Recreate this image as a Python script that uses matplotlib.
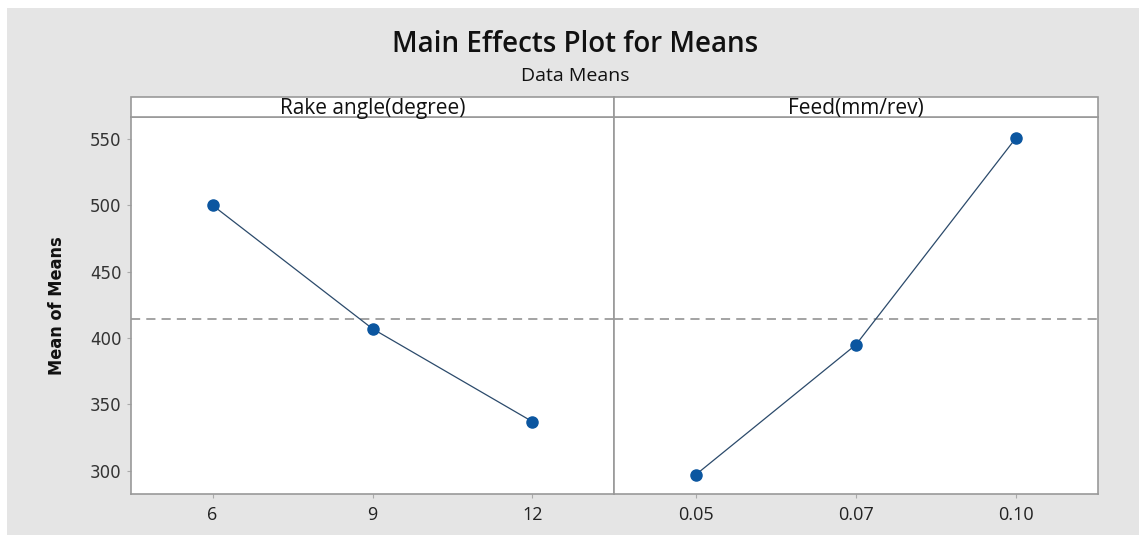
import matplotlib
matplotlib.use("Agg")
import matplotlib.pyplot as plt
from matplotlib.patches import Rectangle
import numpy as np

factors = ["Rake angle(degree)", "Feed(mm/rev)"]
rake_levels = ["6", "9", "12"]
rake_means = [500, 407, 337]
feed_levels = ["0.05", "0.07", "0.10"]
feed_means = [297, 395, 551]
yticks = [300, 350, 400, 450, 500, 550]

grand_mean = np.mean(rake_means + feed_means)

W, H = 1139, 535
fig = plt.figure(figsize=(W / 100, H / 100), dpi=100)
fig.patch.set_facecolor("white")
bg = Rectangle((7 / W, 0), 1 - 7 / W, 1 - 8 / H, transform=fig.transFigure,
               facecolor="#e5e5e5", edgecolor="none", zorder=-10)
fig.patches.append(bg)

left, right = 131 / W, 1098 / W
mid = 614 / W
bottom, top = 1 - 494 / H, 1 - 117 / H
strip_top = 1 - 97 / H

axL = fig.add_axes([left, bottom, mid - left, top - bottom])
axR = fig.add_axes([mid, bottom, right - mid, top - bottom], sharey=axL)

blue = "#0b56a0"
line_c = "#2b4a6b"
edge_c = "#999999"

for ax, levels, means, name in [(axL, rake_levels, rake_means, factors[0]),
                                (axR, feed_levels, feed_means, factors[1])]:
    x = np.arange(1, len(levels) + 1)
    ax.plot(x, means, color=line_c, lw=0.9, zorder=2)
    ax.plot(x, means, 'o', color=blue, ms=8, mec=blue, zorder=3)
    ax.axhline(grand_mean, color="#8a8a8a", lw=1.1, ls=(0, (6, 4)), zorder=1)
    ax.set_xlim(0.49, 3.51)
    ax.set_xticks(x)
    ax.set_xticklabels(levels, fontfamily="Open Sans", fontsize=13, color="#222222")
    ax.set_facecolor("white")
    for s in ax.spines.values():
        s.set_color(edge_c)
        s.set_linewidth(1.2)
    ax.tick_params(axis="x", length=3, color="#aaaaaa", pad=6)
    # strip
    x0, x1 = ax.get_position().x0, ax.get_position().x1
    fig.patches.append(Rectangle((x0, top), x1 - x0, strip_top - top,
                                 transform=fig.transFigure, facecolor="white",
                                 edgecolor=edge_c, lw=1.2, zorder=5))
    fig.text((x0 + x1) / 2, (top + strip_top) / 2 - 0.002, name, ha="center", va="center",
             fontfamily="Open Sans", fontsize=15, color="#111111", zorder=6)

axL.set_ylim(282.5, 566.5)
axL.set_yticks(yticks)
axL.set_yticklabels([str(v) for v in yticks], fontfamily="DejaVu Sans", fontsize=12, color="#333333")
axL.tick_params(axis="y", length=3, color="#aaaaaa", pad=4)
axR.tick_params(axis="y", left=False, labelleft=False)

fig.text(57 / W, (bottom + top) / 2, "Mean of Means", rotation=90, ha="center", va="center",
         fontfamily="DejaVu Sans", fontstretch="condensed", fontweight="bold",
         fontsize=13, color="#111111")

fig.text(575 / W, 1 - 44 / H, "Main Effects Plot for Means", ha="center", va="center",
         fontfamily="Open Sans", fontweight="semibold", fontsize=20, color="#111111")
fig.text(575 / W, 1 - 76 / H, "Data Means", ha="center", va="center",
         fontfamily="Open Sans", fontsize=14, color="#111111")

fig.savefig("out.png", dpi=100, facecolor=fig.get_facecolor())
